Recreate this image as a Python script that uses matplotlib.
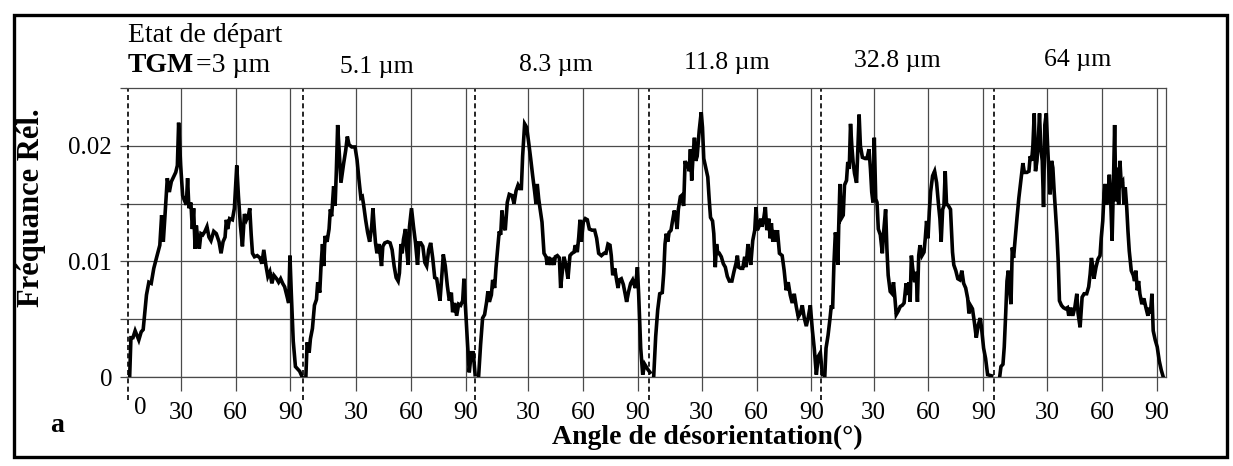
import numpy as np
import matplotlib.pyplot as plt
from matplotlib.patches import Rectangle
import matplotlib.transforms as mtransforms

plt.rcParams['font.family'] = ['Liberation Serif', 'DejaVu Serif']

W, H = 1233, 466

# grain size of each annealing state
panel_titles = ['', '5.1 µm', '8.3 µm', '11.8 µm', '32.8 µm', '64 µm']
# start of each 0-90° block on the common angle axis
panel_start = [0, 96, 190, 285, 379, 474]

# misorientation angle (deg) / relative frequency (x 1e-3), one pair per state
ang_3 = [2, 2.7, 3.8, 5, 7, 8.3, 9.4, 11.2, 12.5, 13.8, 15.2, 17, 18.5, 19.5, 20.4, 21.3,
         22.6, 23.7, 24.8, 25.7, 27.2, 28.1, 28.8, 29.9, 31, 31.9, 33, 33.7, 34.4, 35.5,
         36.3, 37, 37.8, 38.5, 39.2, 40.1, 41, 42, 43.2, 44.3, 45.4, 46.5, 48, 49.4, 50.9,
         52, 53.1, 54.2, 54.9, 55.6, 56.7, 58.2, 59.3, 60.6, 61.5, 62.6, 63.7, 64.8, 65.9,
         67, 67.7, 68.5, 69.2, 70.3, 71.8, 73.3, 74.3, 75.4, 76.5, 77.6, 78.7, 79.8, 80.9,
         82.4, 83.5, 84.6, 85.7, 86.8, 87.9, 89, 89.7, 90.4, 91.5, 92.7, 95, 96.4]
frq_3 = [0, 3.4, 3.4, 4.0, 3.2, 3.9, 4.1, 7.1, 8.2, 8.1, 9.4, 10.5, 11.4, 14.0, 11.7, 13.9,
         17.2, 16.0, 16.9, 17.2, 17.7, 18.3, 22.0, 18.3, 15.7, 15.3, 14.9, 17.2, 14.6, 15.1,
         12.8, 14.6, 11.1, 13.1, 12.0, 11.1, 12.4, 12.3, 12.6, 13.0, 12.1, 11.8, 12.6, 12.4, 11.7,
         10.7, 11.7, 12.1, 13.6, 12.8, 13.7, 13.6, 14.6, 18.3, 15.7, 13.1, 11.3, 14.1, 13.6,
         14.0, 14.6, 12.3, 10.7, 10.4, 10.5, 10.3, 9.8, 11.0, 9.7, 8.7, 9.1, 8.1, 8.8,
         8.5, 8.2, 8.5, 8.1, 7.8, 7.1, 6.4, 10.5, 7.4, 3.1, 0.9, 0.5, 0]

ang_5 = [2.4, 3.1, 4.2, 4.9, 6, 7.1, 8.2, 8.9, 10, 10.7, 11.5, 12.2, 12.9, 14, 15.1, 15.8,
         16.5, 17.6, 18.4, 19.1, 19.8, 20.9, 21.6, 23.1, 24.2, 25.1, 26, 27.5, 29.3, 30.4,
         31.5, 32.5, 33.3, 34, 35.1, 36.2, 37.3, 38.4, 39.1, 39.8, 40.5, 41.3, 42.4, 43.1,
         43.8, 44.5, 45.6, 47.1, 48.5, 49.6, 50.7, 51.8, 52.9, 53.6, 54.4, 55.1, 55.8, 56.9,
         57.6, 58.4, 59.1, 60.2, 61.3, 62.4, 63.5, 64.2, 65.3, 66.4, 67.5, 68.5, 69.6, 70.7,
         71.8, 72.9, 74, 75.1, 75.8, 76.9, 77.6, 78.7, 79.8, 80.9, 82, 82.7, 83.8, 84.9, 86,
         87.1, 88.2, 88.9, 89.6, 90.7, 91.8, 92.9, 94, 95]
frq_5 = [0, 3.0, 2.1, 3.3, 4.2, 6.2, 6.7, 8.2, 7.3, 9.6, 11.5, 9.6, 12.2, 11.7, 12.8, 14.5,
         13.9, 16.5, 14.8, 17.9, 21.8, 18.8, 16.8, 18.5, 19.6, 20.8, 20.1, 19.9, 19.9, 18.8,
         17.0, 15.5, 15.6, 14.9, 13.6, 12.5, 11.7, 13.0, 14.6, 13.0, 11.6, 10.7, 11.5, 10.6,
         9.6, 11.3, 11.6, 11.7, 11.6, 11.0, 9.6, 8.6, 8.3, 9.0, 11.5, 10.7, 11.9, 12.8,
         11.0, 9.7, 13.0, 14.6, 13.0, 11.6, 9.7, 11.6, 11.6, 11.3, 9.9, 9.6, 11.0, 11.6,
         10.3, 8.6, 8.5, 7.3, 6.6, 9.0, 10.6, 9.6, 7.9, 6.6, 7.3, 5.6, 6.4, 5.3, 6.3,
         6.2, 6.6, 8.5, 6.4, 3.3, 0.4, 2.1, 2.1, 0.2]

ang_8 = [2.9, 4, 5.1, 6.2, 7.3, 8, 8.8, 9.9, 10.6, 11.7, 12.4, 13.5, 14.2, 15, 15.7, 16.4,
         17.5, 18.6, 19.7, 21.2, 22.3, 23.4, 24.5, 25.5, 26.3, 27, 28.1, 29.2, 30.3, 31.4,
         32.5, 33.6, 34.3, 35, 35.8, 36.5, 37.6, 38.7, 39.8, 40.5, 41.2, 42.3, 43.1, 44.2,
         44.9, 46, 47.1, 47.8, 48.5, 49.6, 50.7, 51.8, 52.9, 54, 55.1, 55.8, 56.9, 57.7,
         58.4, 59.1, 60.2, 61.3, 62.4, 63.5, 65, 66.4, 67.5, 68.6, 70.1, 71.5, 72.6, 73.7,
         74.8, 75.5, 76.3, 77.4, 78.5, 79.2, 79.9, 81, 82.1, 83.2, 83.9, 85, 86.1, 87.2,
         88, 88.7, 89.8, 90.5, 91.6, 92.7, 93.8, 95.3, 96.7]
frq_8 = [0, 2.8, 5.1, 5.4, 6.5, 7.4, 6.5, 7.1, 8.4, 7.7, 9.4, 11.4, 12.6, 12.3, 14.4, 13.1,
         12.7, 15.1, 15.8, 15.7, 15.0, 16.1, 16.6, 16.3, 16.3, 19.1, 21.9, 21.6, 20.3, 18.9,
         17.4, 16.0, 15.0, 16.7, 15.4, 14.6, 13.4, 10.7, 10.4, 9.7, 10.4, 9.7, 10.3, 9.7,
         10.4, 10.5, 10.3, 7.7, 8.8, 10.4, 9.7, 8.5, 10.5, 10.7, 10.8, 11.4, 10.8, 12.1,
         13.6, 11.7, 13.4, 13.7, 13.6, 12.8, 12.7, 12.7, 12.0, 10.7, 10.5, 10.7, 10.7, 11.5,
         11.4, 10.5, 8.8, 9.4, 8.3, 7.7, 8.4, 8.5, 8.0, 7.1, 6.5, 7.4, 8.1, 8.4,
         8.0, 7.7, 9.5, 7.1, 2.5, 0.2, 1.1, 0.7, 0.4]

ang_11 = [3.7, 4.8, 5.9, 7, 8.4, 9.2, 9.9, 10.6, 11.4, 12.1, 13.2, 13.9, 15, 15.8, 16.5,
          17.2, 18.3, 19, 20.1, 20.9, 21.6, 22.3, 23.1, 23.8, 24.5, 25.3, 26, 26.7, 27.5,
          28.6, 29.7, 30.4, 31.1, 32.2, 33.3, 34.1, 34.8, 35.9, 36.6, 37.4, 38.1, 38.8, 39.6,
          40.7, 41.8, 42.9, 44, 45.1, 46.5, 47.6, 48.7, 49.5, 50.2, 51.3, 52.4, 53.5, 54.2,
          55.3, 56, 56.8, 57.9, 59, 59.7, 60.4, 61.5, 62.3, 63, 63.7, 64.8, 65.6, 66.7, 67.4,
          68.1, 68.9, 70, 70.7, 71.4, 72.5, 74, 75.1, 76.2, 77.3, 78.4, 79.5, 80.6, 81.7,
          82.8, 83.9, 85, 86.1, 87.2, 88.3, 89.4, 90.5, 91.6, 92.7, 93.8, 94.9, 96]
frq_11 = [0, 3.5, 5.8, 7.2, 7.3, 9.0, 11.5, 12.4, 11.7, 12.5, 12.7, 13.4, 14.4, 13.8, 12.8,
          14.5, 15.6, 15.7, 14.8, 18.7, 18.1, 18.6, 17.8, 19.7, 17.0, 19.3, 20.7, 18.7, 19.1,
          21.3, 22.9, 21.6, 18.9, 18.1, 17.3, 15.3, 13.8, 13.5, 12.4, 9.5, 11.5, 10.7, 10.7,
          10.4, 9.8, 9.5, 8.7, 8.3, 8.3, 9.1, 9.8, 10.5, 9.5, 9.4, 9.4, 10.4, 9.5,
          11.5, 10.5, 9.7, 11.8, 12.7, 14.7, 12.7, 13.1, 13.7, 13.0, 13.5, 14.7, 12.7, 13.7, 12.0,
          13.3, 11.7, 12.7, 11.7, 12.7, 10.7, 10.5, 9.2, 7.5, 8.2, 7.1, 6.4, 7.2, 6.1,
          5.2, 5.5, 6.2, 5.1, 4.4, 5.2, 6.2, 4.1, 2.4, 0.2, 1.8, 2.1, 0.2]

ang_32 = [3.3, 4, 5.1, 6.2, 6.9, 7.6, 8.3, 9.1, 9.8, 10.5, 10.9, 11.6, 12.3, 13.4, 14.1,
          15.2, 15.9, 16.7, 17.4, 18.1, 18.8, 19.6, 20.7, 21.4, 22.1, 22.8, 23.9, 25.4, 26.4,
          27.5, 28.3, 29, 29.7, 30.4, 31.2, 31.9, 32.6, 33.7, 34.8, 35.5, 36.6, 37.3, 38,
          39.1, 40.2, 40.9, 41.7, 42.4, 43.5, 44.6, 45.7, 46.7, 47.8, 48.6, 49.3, 50, 50.7,
          51.4, 52.5, 53.3, 54, 54.7, 55.4, 56.5, 57.6, 58.3, 59, 59.8, 60.5, 61.2, 62.3,
          63.4, 64.5, 65.6, 66.3, 67, 67.8, 68.5, 69.2, 69.9, 71, 72.1, 73.2, 73.9, 75,
          76.1, 77.2, 78.3, 79.3, 80.4, 81.5, 82.2, 83, 84.1, 85.1, 86.2, 87.3, 88.4, 89.1,
          90.2, 91.3, 92.4, 94.6]
frq_32 = [0, 2.5, 3.6, 5.1, 6.2, 5.9, 9.7, 12.5, 11.7, 9.7, 12.8, 16.7, 13.7, 14.0, 16.6,
          17.0, 18.6, 18.0, 21.9, 20.0, 18.6, 17.6, 16.8, 19.7, 22.7, 20.0, 19.0, 18.9, 18.9,
          19.7, 18.0, 16.0, 15.1, 20.7, 15.4, 15.1, 12.8, 12.3, 10.7, 12.5, 14.5, 11.1, 8.8,
          7.4, 7.2, 8.2, 6.8, 5.4, 5.7, 6.1, 6.2, 6.4, 8.1, 7.1, 8.2, 6.5, 10.5,
          9.4, 8.2, 9.1, 6.5, 10.5, 11.4, 10.5, 10.8, 12.0, 13.5, 12.0, 14.3, 16.0, 17.4,
          17.8, 16.8, 14.8, 13.7, 11.7, 14.5, 14.8, 17.8, 15.0, 14.8, 14.5, 10.8, 9.7, 9.2,
          8.5, 8.4, 9.2, 8.1, 7.7, 6.8, 5.5, 6.2, 5.9, 4.8, 3.4, 4.5, 5.1, 4.2,
          2.5, 1.6, 0.2, 0.1]

ang_64 = [4, 4.7, 5.8, 6.5, 7.3, 8, 8.7, 9.5, 10.2, 10.9, 11.6, 12.4, 13.5, 14.5, 15.6,
          16.7, 17.5, 18.9, 20, 20.7, 21.5, 22.2, 22.9, 23.6, 24.4, 25.1, 25.8, 26.5, 27.3,
          28, 28.7, 29.5, 30.2, 30.9, 31.6, 32.4, 33.1, 33.8, 34.5, 35.3, 36, 36.7, 37.8,
          38.9, 40, 41.1, 41.8, 42.9, 44, 45.1, 46.2, 46.9, 48, 49.1, 50.2, 51.6, 52.7,
          53.5, 54.2, 54.9, 55.6, 56.7, 57.8, 58.9, 59.6, 60.4, 61.1, 61.8, 62.5, 63.3, 64,
          64.7, 65.5, 66.2, 66.9, 67.6, 68.4, 69.1, 69.8, 70.5, 71.3, 72, 72.7, 73.5, 74.2,
          74.9, 76, 77.1, 77.8, 78.5, 79.3, 80, 80.7, 81.8, 82.9, 84, 85.1, 85.8, 86.5,
          87.3, 88, 89.1, 90.2, 91.3, 92.4, 93.5]
frq_64 = [0, 0.9, 1.1, 2.6, 5.5, 8.3, 9.2, 7.5, 6.3, 11.2, 10.3, 11.8, 13.8, 15.5, 17.0,
          18.5, 17.7, 17.7, 17.8, 19.1, 18.7, 20.1, 22.8, 17.8, 18.7, 20.4, 22.8, 19.8, 18.7,
          14.7, 21.8, 22.8, 20.1, 17.8, 15.8, 18.7, 18.1, 16.1, 14.4, 12.4, 10.1, 6.6, 6.2,
          6.0, 5.9, 6.0, 5.3, 6.0, 5.3, 6.0, 7.2, 5.5, 4.3, 6.9, 7.2, 7.2, 7.8,
          8.9, 10.3, 9.6, 8.5, 9.5, 10.2, 10.5, 12.1, 13.5, 15.9, 16.7, 14.9, 15.8, 17.5,
          15.5, 11.8, 16.4, 21.8, 15.2, 18.1, 14.9, 18.7, 16.7, 16.9, 14.9, 16.4, 14.7, 12.6,
          10.9, 9.2, 8.8, 8.3, 9.2, 7.5, 8.3, 7.2, 6.3, 6.8, 6.0, 5.3, 6.0, 5.5,
          7.2, 4.0, 3.2, 2.6, 1.4, 0.6, 0]

angles = [ang_3, ang_5, ang_8, ang_11, ang_32, ang_64]
freqs = [frq_3, frq_5, frq_8, frq_11, frq_32, frq_64]

fig = plt.figure(figsize=(W / 100, H / 100), dpi=100)
ax = fig.add_axes([126 / W, 1 - 377 / H, (1166 - 126) / W, (377 - 88) / H])

grid_kw = dict(color='#4a4a4a', lw=0.9)

# one curve per grain size, shifted along the shared angle axis
for start, a, f in zip(panel_start, angles, freqs):
    ax.plot(start + np.array(a), np.array(f) * 1e-3, color='black', lw=2.6,
            solid_joinstyle='miter', zorder=3)

# solid grid lines at 30/60/90 of each block, dashed separator at each block origin
xt, xl = [], []
trans = mtransforms.blended_transform_factory(ax.transData, ax.transAxes)
for start in panel_start:
    for d in (30, 60, 90):
        ax.axvline(start + d, **grid_kw, zorder=1)
        xt.append(start + d)
        xl.append(str(d))
    ax.plot([start + 1, start + 1], [-0.08, 1], transform=trans, color='black',
            lw=1.2, ls=(0, (3, 2)), clip_on=False, zorder=2)
ax.text(8, -0.07, '0', transform=trans, ha='center', va='top', fontsize=18)

for yv in np.arange(0, 0.0201, 0.005):
    ax.axhline(yv, **grid_kw, zorder=1)

ax.set_xlim(0, 569)
ax.set_ylim(0, 0.025)
ax.set_xticks(xt)
ax.set_xticklabels(xl, fontsize=18)
ax.set_yticks([0, 0.01, 0.02])
ax.set_yticklabels(['0', '0.01', '0.02'], fontsize=18)
ax.set_yticks([0.005, 0.015, 0.025], minor=True)
ax.tick_params(axis='x', length=10, width=0.9, color='#4a4a4a', pad=8)
ax.tick_params(axis='y', which='both', length=4, width=0.9, color='#4a4a4a', pad=6)
ax.spines['left'].set_visible(False)
for side in ('top', 'bottom', 'right'):
    ax.spines[side].set_color('#4a4a4a')
    ax.spines[side].set_linewidth(0.9)

# text placed in pixel coordinates of the figure
def ftext(x, y, s, **kw):
    fig.text(x / W, 1 - y / H, s, **kw)

ftext(128, 35, 'Etat de départ', fontsize=20, ha='left', va='center')
ftext(128, 66, 'TGM', fontsize=20, fontweight='bold', ha='left', va='center')
ftext(196, 66, '=3 µm', fontsize=20, ha='left', va='center')
title_x = [0, 377, 556, 727, 897, 1078]
title_y = [0, 67, 65, 63, 61, 60]
for t, tx, ty in zip(panel_titles, title_x, title_y):
    if t:
        ftext(tx, ty, t, fontsize=18.5, ha='center', va='center')

ftext(32, 208, 'Fréquance Rél.', fontsize=22, fontweight='bold', rotation=90,
      ha='center', va='center')
ftext(707, 437, 'Angle de désorientation(°)', fontsize=20, fontweight='bold',
      ha='center', va='center')
ftext(57, 426, 'a', fontsize=20, fontweight='bold', ha='center', va='center')

# frame around the whole figure
fig.patches.append(Rectangle((14 / W, 1 - 457 / H), (1227 - 14) / W, (457 - 15) / H,
                             transform=fig.transFigure, fill=False, lw=2.4,
                             edgecolor='black'))

fig.savefig('out.png', dpi=100, facecolor='white')
